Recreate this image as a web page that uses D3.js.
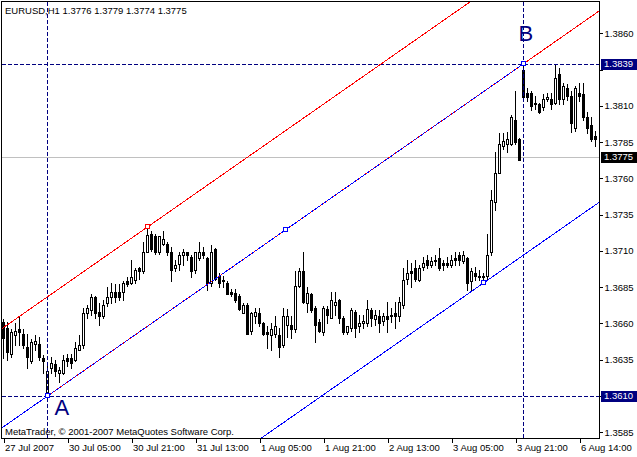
<!DOCTYPE html>
<html><head><meta charset="utf-8">
<script src="https://cdn.jsdelivr.net/npm/d3@7"></script>
<style>
body{margin:0;background:#fff}
svg{display:block}
text{font-family:"Liberation Sans",Arial,sans-serif}
</style>
</head><body><svg id="c" width="637" height="457"></svg>
<script>
// ---- data (EURUSD H1, one value per bar) ----
const openP=[1.3661,1.3657,1.3639,1.3652,1.3656,1.3653,1.3644,1.3634,1.3646,1.3646,
1.3636,1.3612,1.3629,1.3632,1.3626,1.3626,1.3636,1.3636,1.3635,1.3642,
1.3645,1.3667,1.3669,1.3678,1.3668,1.3665,1.3674,1.3678,1.3682,1.3682,
1.3682,1.3689,1.3688,1.3690,1.3698,1.3696,1.3709,1.3722,1.3720,1.3709,
1.3715,1.3715,1.3709,1.3698,1.3701,1.3707,1.3709,1.3706,1.3697,1.3705,
1.3709,1.3705,1.3688,1.3711,1.3693,1.3690,1.3688,1.3682,1.3681,1.3679,
1.3667,1.3673,1.3655,1.3665,1.3667,1.3660,1.3654,1.3652,1.3653,1.3652,
1.3645,1.3659,1.3659,1.3656,1.3686,1.3696,1.3674,1.3680,1.3671,1.3661,
1.3654,1.3670,1.3664,1.3673,1.3676,1.3664,1.3654,1.3657,1.3668,1.3658,
1.3660,1.3660,1.3669,1.3663,1.3665,1.3662,1.3665,1.3665,1.3667,1.3665,
1.3673,1.3691,1.3696,1.3698,1.3690,1.3699,1.3704,1.3700,1.3704,1.3705,
1.3702,1.3702,1.3700,1.3705,1.3707,1.3703,1.3705,1.3689,1.3695,1.3693,
1.3693,1.3693,1.3709,1.3744,1.3764,1.3782,1.3784,1.3784,1.3800,1.3787,
1.3835,1.3819,1.3819,1.3812,1.3811,1.3809,1.3815,1.3815,1.3812,1.3832,
1.3815,1.3822,1.3817,1.3795,1.3819,1.3818,1.3802,1.3797,1.3789];
const highP=[1.3663,1.3661,1.3656,1.3660,1.3665,1.3656,1.3653,1.3649,1.3652,1.3651,
1.3638,1.3633,1.3637,1.3635,1.3630,1.3638,1.3639,1.3639,1.3647,1.3652,
1.3671,1.3673,1.3680,1.3679,1.3674,1.3676,1.3685,1.3688,1.3687,1.3687,
1.3689,1.3692,1.3704,1.3698,1.3699,1.3716,1.3726,1.3724,1.3722,1.3720,
1.3724,1.3716,1.3713,1.3704,1.3709,1.3711,1.3709,1.3707,1.3709,1.3716,
1.3713,1.3706,1.3714,1.3712,1.3695,1.3693,1.3689,1.3684,1.3684,1.3680,
1.3674,1.3674,1.3668,1.3671,1.3671,1.3661,1.3658,1.3660,1.3665,1.3657,
1.3671,1.3670,1.3665,1.3696,1.3698,1.3709,1.3685,1.3681,1.3672,1.3663,
1.3672,1.3672,1.3682,1.3682,1.3677,1.3665,1.3658,1.3671,1.3669,1.3666,
1.3666,1.3676,1.3671,1.3669,1.3669,1.3667,1.3675,1.3671,1.3675,1.3678,
1.3698,1.3704,1.3702,1.3704,1.3700,1.3706,1.3707,1.3706,1.3707,1.3712,
1.3704,1.3706,1.3707,1.3709,1.3709,1.3710,1.3706,1.3698,1.3699,1.3697,
1.3695,1.3722,1.3752,1.3778,1.3791,1.3791,1.3792,1.3804,1.3820,1.3788,
1.3839,1.3822,1.3820,1.3817,1.3812,1.3818,1.3819,1.3819,1.3838,1.3836,
1.3826,1.3825,1.3820,1.3824,1.3826,1.3826,1.3806,1.3802,1.3793];
const lowP=[1.3636,1.3635,1.3637,1.3645,1.3645,1.3643,1.3629,1.3633,1.3642,1.3635,
1.3626,1.3610,1.3626,1.3624,1.3620,1.3625,1.3631,1.3629,1.3634,1.3642,
1.3643,1.3664,1.3666,1.3664,1.3659,1.3664,1.3672,1.3674,1.3675,1.3676,
1.3676,1.3686,1.3687,1.3688,1.3691,1.3695,1.3709,1.3710,1.3708,1.3708,
1.3714,1.3707,1.3689,1.3696,1.3697,1.3700,1.3704,1.3692,1.3695,1.3704,
1.3705,1.3683,1.3686,1.3690,1.3685,1.3685,1.3680,1.3679,1.3675,1.3669,
1.3667,1.3653,1.3653,1.3660,1.3658,1.3652,1.3643,1.3642,1.3651,1.3637,
1.3644,1.3651,1.3650,1.3654,1.3685,1.3674,1.3668,1.3668,1.3647,1.3654,
1.3652,1.3660,1.3664,1.3666,1.3660,1.3653,1.3653,1.3655,1.3651,1.3654,
1.3657,1.3658,1.3658,1.3659,1.3654,1.3659,1.3654,1.3661,1.3657,1.3662,
1.3671,1.3687,1.3685,1.3689,1.3689,1.3697,1.3698,1.3699,1.3700,1.3697,
1.3697,1.3699,1.3699,1.3700,1.3700,1.3702,1.3683,1.3683,1.3690,1.3690,
1.3688,1.3691,1.3707,1.3738,1.3764,1.3780,1.3778,1.3783,1.3784,1.3773,
1.3813,1.3813,1.3807,1.3808,1.3805,1.3807,1.3813,1.3808,1.3811,1.3811,
1.3811,1.3814,1.3792,1.3793,1.3813,1.3800,1.3791,1.3786,1.3782];
const closeP=[1.3650,1.3640,1.3654,1.3655,1.3654,1.3645,1.3637,1.3647,1.3648,1.3637,
1.3634,1.3627,1.3633,1.3627,1.3628,1.3635,1.3634,1.3633,1.3643,1.3645,
1.3667,1.3671,1.3678,1.3667,1.3665,1.3673,1.3678,1.3682,1.3678,1.3678,
1.3688,1.3687,1.3692,1.3697,1.3696,1.3709,1.3721,1.3711,1.3709,1.3720,
1.3718,1.3709,1.3697,1.3700,1.3707,1.3709,1.3707,1.3696,1.3709,1.3709,
1.3707,1.3688,1.3709,1.3691,1.3688,1.3689,1.3680,1.3680,1.3676,1.3670,
1.3673,1.3653,1.3667,1.3668,1.3660,1.3653,1.3653,1.3656,1.3658,1.3644,
1.3665,1.3665,1.3656,1.3686,1.3696,1.3675,1.3681,1.3669,1.3659,1.3655,
1.3671,1.3666,1.3676,1.3675,1.3664,1.3654,1.3658,1.3669,1.3657,1.3660,
1.3662,1.3670,1.3664,1.3666,1.3660,1.3665,1.3663,1.3666,1.3665,1.3675,
1.3690,1.3695,1.3695,1.3691,1.3698,1.3702,1.3700,1.3703,1.3703,1.3698,
1.3700,1.3700,1.3704,1.3704,1.3704,1.3707,1.3688,1.3696,1.3693,1.3692,
1.3692,1.3707,1.3745,1.3764,1.3784,1.3786,1.3787,1.3802,1.3785,1.3773,
1.3816,1.3816,1.3810,1.3811,1.3806,1.3815,1.3816,1.3811,1.3829,1.3815,
1.3824,1.3817,1.3798,1.3822,1.3817,1.3802,1.3795,1.3787,1.3787];

const timeTickBars=[0,16,32,48,64,80,96,112,128,144];
const timeTickLabels=["27 Jul 2007","30 Jul 05:00","30 Jul 21:00","31 Jul 13:00","1 Aug 05:00","1 Aug 21:00","2 Aug 13:00","3 Aug 05:00","3 Aug 21:00","6 Aug 14:00"];
const priceTicks=[1.3585,1.3610,1.3635,1.3660,1.3685,1.3710,1.3735,1.3760,1.3785,1.3810,1.3835,1.3860];

const pointA={bar:11,price:1.3610,label:"A"};
const pointB={bar:130,price:1.3839,label:"B"};
const redAnchor={bar:36,price:1.37265};
const blueMidBar=70.5;
const blueLowAnchor={bar:120,price:1.36879};
const lastPrice=1.3775;
const headerText="EURUSD,H1  1.3776 1.3779 1.3774 1.3775";
const footerText="MetaTrader, \u00A9 2001-2007 MetaQuotes Software Corp.";

// ---- layout ----
const W=637,H=457;
const plot={l:1.5,t:1.5,r:599.5,b:438.5};
const navy="#000080";
const svg=d3.select("#c").attr("shape-rendering","crispEdges");
svg.append("rect").attr("width",W).attr("height",H).attr("fill","#fff");

const x=d3.scaleLinear().domain([0,148]).range([3.5,595.5]);
const y=d3.scaleLinear().domain([1.3585,1.3860]).range([432.3,33.3]);

svg.append("clipPath").attr("id","clip").append("rect")
  .attr("x",plot.l+0.5).attr("y",plot.t+0.5).attr("width",plot.r-plot.l-1).attr("height",plot.b-plot.t-1);
const g=svg.append("g").attr("clip-path","url(#clip)");

// bid line
g.append("line").attr("x1",plot.l).attr("x2",plot.r)
  .attr("y1",Math.round(y(lastPrice))+0.5).attr("y2",Math.round(y(lastPrice))+0.5)
  .attr("stroke","#c0c0c0");

// candles
const bars=d3.range(openP.length).map(i=>({i,o:openP[i],h:highP[i],l:lowP[i],c:closeP[i]}));
const rp=v=>Math.round(v);
const cg=g.append("g");
cg.selectAll("line.w").data(bars).join("line").attr("class","w")
  .attr("x1",d=>x(d.i)).attr("x2",d=>x(d.i))
  .attr("y1",d=>rp(y(d.h))).attr("y2",d=>rp(y(d.l))+1)
  .attr("stroke","#000");
cg.selectAll("rect.b").data(bars).join("rect").attr("class","b")
  .attr("x",d=>x(d.i)-1).attr("width",2)
  .attr("y",d=>rp(y(Math.max(d.o,d.c)))+0.5)
  .attr("height",d=>Math.max(0,rp(y(Math.min(d.o,d.c)))-rp(y(Math.max(d.o,d.c)))))
  .attr("fill",d=>d.c>=d.o?"#fff":"#000").attr("stroke","#000");

// dashed A/B guides
const dash="4,2";
[pointA,pointB].forEach(p=>{
  const py=Math.round(y(p.price))+0.5;
  g.append("line").attr("x1",plot.l).attr("x2",plot.r).attr("y1",py).attr("y2",py)
    .attr("stroke",navy).attr("stroke-dasharray",dash);
  g.append("line").attr("x1",x(p.bar)).attr("x2",x(p.bar)).attr("y1",plot.t).attr("y2",plot.b)
    .attr("stroke",navy).attr("stroke-dasharray",dash);
});

// channel lines
const slope=(pointB.price-pointA.price)/(pointB.bar-pointA.bar);
const base=b=>pointA.price+slope*(b-pointA.bar);
const redOff=redAnchor.price-base(redAnchor.bar);
const blueOff=blueLowAnchor.price-base(blueLowAnchor.bar);
const bL=x.invert(0), bR=x.invert(W+60);
const seg=(b1,b2,off,col,da)=>g.append("line")
  .attr("x1",x(b1)).attr("y1",y(base(b1)+off)).attr("x2",x(b2)).attr("y2",y(base(b2)+off))
  .attr("stroke",col).attr("stroke-width",1).attr("stroke-dasharray",da||null);
seg(pointB.bar,bR,0,"#ff0000");
seg(bL,bR,redOff,"#ff0000");
seg(bL,pointB.bar,0,"#0000ff");
seg(pointA.bar,pointB.bar,0,"#ff0000","1,3");
seg(bL-200,bR,blueOff,"#0000ff");

// anchor markers
const mk=(b,p,col)=>g.append("rect").attr("x",Math.round(x(b))-2.5).attr("y",Math.round(y(p))-2.5)
  .attr("width",4).attr("height",4).attr("fill","#fff").attr("stroke",col);
mk(redAnchor.bar,redAnchor.price,"#ff0000");
mk(pointA.bar,pointA.price,"#0000ff");
mk(blueMidBar,base(blueMidBar),"#0000ff");
mk(pointB.bar,pointB.price,"#0000ff");
mk(blueLowAnchor.bar,blueLowAnchor.price,"#0000ff");

// A / B labels
g.append("text").attr("x",x(pointA.bar)+7).attr("y",y(pointA.price)+19)
  .attr("font-size",22).attr("fill",navy).text(pointA.label);
g.append("text").attr("x",x(pointB.bar)-5).attr("y",y(pointB.price)-23)
  .attr("font-size",22).attr("fill",navy).text(pointB.label);

// header & footer
svg.append("text").attr("x",5).attr("y",14).attr("font-size",9.5).text(headerText);
svg.append("text").attr("x",5).attr("y",435).attr("font-size",9.5).text(footerText);

// frame
svg.append("rect").attr("x",plot.l).attr("y",plot.t).attr("width",plot.r-plot.l).attr("height",plot.b-plot.t)
  .attr("fill","none").attr("stroke","#000");

// price axis
const ya=svg.append("g").attr("transform",`translate(${plot.r},0)`)
  .call(d3.axisRight(y).tickValues(priceTicks).tickFormat(d3.format(".4f")).tickSizeInner(3).tickSizeOuter(0).tickPadding(2));
ya.select(".domain").remove();
ya.selectAll("text").attr("font-size",9.5).attr("font-family","Liberation Sans, Arial, sans-serif").attr("fill","#000");
ya.selectAll(".tick line").attr("stroke","#000");
// the 1.3835 label sits under the 1.3839 tag: only its lower sliver shows
svg.append("clipPath").attr("id","hideTag").append("rect").attr("x",600).attr("y",Math.round(y(pointB.price))+6).attr("width",37).attr("height",20);
ya.selectAll(".tick").filter(d=>Math.abs(d-1.3835)<1e-6).select("text").attr("clip-path","url(#hideTag)")
  .attr("transform",`translate(0,0)`);

// highlighted price labels
const tag=(p,bg)=>{
  const py=y(p);
  svg.append("rect").attr("x",601).attr("y",Math.round(py)-5).attr("width",36).attr("height",11).attr("fill",bg);
  svg.append("text").attr("x",604).attr("y",py).attr("dy","0.35em").attr("font-size",9.5).attr("fill","#fff").text(d3.format(".4f")(p));
};
tag(pointB.price,navy);
tag(pointA.price,navy);
tag(lastPrice,"#000");

// time axis
const xa=svg.append("g").attr("transform",`translate(0,${plot.b})`)
  .call(d3.axisBottom(x).tickValues(timeTickBars).tickFormat((d,i)=>timeTickLabels[i]).tickSizeInner(4).tickSizeOuter(0).tickPadding(2));
xa.select(".domain").remove();
xa.selectAll("text").attr("font-size",9.5).attr("font-family","Liberation Sans, Arial, sans-serif")
  .attr("text-anchor","start").attr("dx",1).attr("fill","#000");
xa.selectAll(".tick line").attr("stroke","#000");
</script>
</body></html>
